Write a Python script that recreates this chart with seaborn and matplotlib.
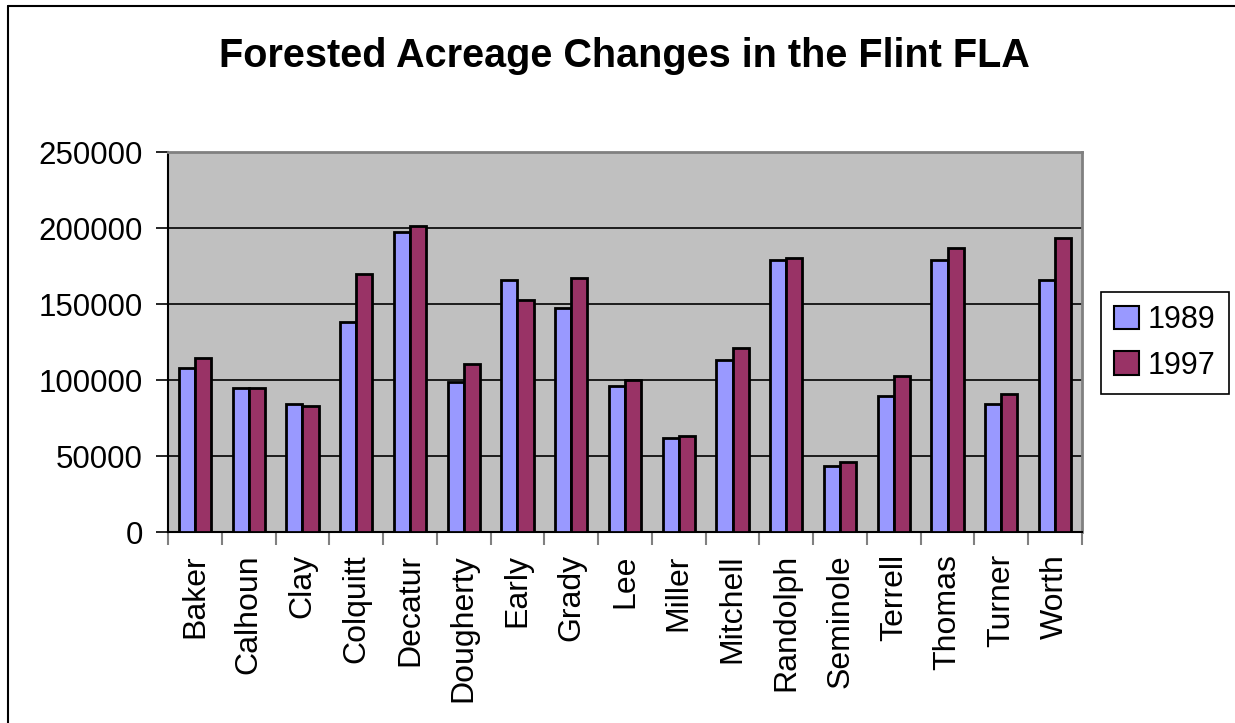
import matplotlib
matplotlib.use("Agg")
import matplotlib.pyplot as plt
import seaborn as sns
import pandas as pd
from matplotlib.lines import Line2D
from matplotlib.patches import Patch

counties = ["Baker", "Calhoun", "Clay", "Colquitt", "Decatur", "Dougherty",
            "Early", "Grady", "Lee", "Miller", "Mitchell", "Randolph",
            "Seminole", "Terrell", "Thomas", "Turner", "Worth"]
acres_1989 = [108000, 94700, 84200, 138200, 197400, 98500,
              165800, 147400, 96100, 61800, 113200, 178900,
              43400, 89500, 178900, 84200, 165800]
acres_1997 = [114500, 94700, 82900, 169700, 201100, 110500,
              152400, 167300, 100200, 63200, 121100, 180300,
              45800, 102600, 186800, 90800, 193200]
years = ["1989", "1997"]
colors = ["#9999FF", "#993366"]
y_ticks = [0, 50000, 100000, 150000, 200000, 250000]

df = pd.DataFrame({
    "County": counties * 2,
    "Year": [years[0]] * len(counties) + [years[1]] * len(counties),
    "Acres": acres_1989 + acres_1997,
})

sns.set_theme(style="white")
plt.rcParams["font.family"] = ["Liberation Sans", "DejaVu Sans"]
plt.rcParams["text.color"] = "black"
plt.rcParams["xtick.color"] = "black"
plt.rcParams["ytick.color"] = "black"
plt.rcParams["xtick.labelcolor"] = "black"
plt.rcParams["ytick.labelcolor"] = "black"

fig = plt.figure(figsize=(12.35, 7.23), dpi=100)
ax = fig.add_axes([168 / 1235, 1 - 532 / 723, (1082 - 168) / 1235, (532 - 152) / 723])
ax.set_facecolor("#C0C0C0")

sns.barplot(data=df, x="County", y="Acres", hue="Year", order=counties,
            hue_order=years, palette=colors, width=0.6, saturation=1,
            edgecolor="black", linewidth=2.0, legend=False, ax=ax, zorder=3)

ax.set_xlim(-0.5, len(counties) - 0.5)
ax.set_ylim(0, 250000)
ax.set_yticks(y_ticks)
ax.set_yticklabels([str(v) for v in y_ticks], fontsize=22.5)
ax.yaxis.grid(True, color="black", linewidth=1.2, zorder=1)
ax.set_axisbelow(True)
ax.tick_params(axis="y", length=9, width=1.2, color="black", pad=9, left=True)

# category boundary ticks on the x axis
ax.set_xticks([i - 0.5 for i in range(len(counties) + 1)], minor=False)
ax.set_xticklabels([])
ax.set_xticks(range(len(counties)), minor=True)
ax.set_xticklabels(counties, minor=True, rotation=90, fontsize=23, va="top", ha="center")
ax.tick_params(axis="x", which="major", length=9, width=1.5, color="#808080", bottom=True)
ax.tick_params(axis="x", which="minor", length=0, pad=16, bottom=True)

ax.set_xlabel("")
ax.set_ylabel("")

for side in ["top", "right"]:
    ax.spines[side].set_color("#808080")
    ax.spines[side].set_linewidth(2)
for side in ["left", "bottom"]:
    ax.spines[side].set_color("black")
    ax.spines[side].set_linewidth(1.5)

fig.text(624 / 1235, 1 - 56 / 723, "Forested Acreage Changes in the Flint FLA",
         ha="center", va="center", fontsize=28.5, fontweight="bold", color="black")

handles = [Patch(facecolor=c, edgecolor="black", linewidth=1.5) for c in colors]
leg = fig.legend(handles, years, loc="center", bbox_to_anchor=(1165 / 1235, 1 - 343 / 723),
                 fontsize=22, frameon=True, fancybox=False, framealpha=1,
                 edgecolor="black", handlelength=0.8, handleheight=0.8,
                 handletextpad=0.3, borderpad=0.45, labelspacing=0.5)
leg.get_frame().set_linewidth(1.2)

# outer chart frame on the left and top edges
fig.add_artist(Line2D([8 / 1235, 8 / 1235], [0, 1 - 6 / 723], color="black",
                      linewidth=1.5, transform=fig.transFigure))
fig.add_artist(Line2D([8 / 1235, 1], [1 - 6 / 723, 1 - 6 / 723], color="black",
                      linewidth=1.5, transform=fig.transFigure))

fig.savefig("out.png", dpi=100)
